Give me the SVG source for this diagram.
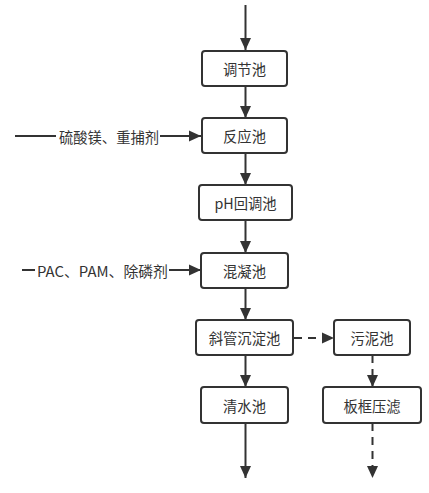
<svg xmlns="http://www.w3.org/2000/svg" width="429" height="493" viewBox="0 0 429 493">
<defs>
<marker id="arr" markerWidth="12" markerHeight="12" viewBox="0 0 12 12" refX="12" refY="6" orient="auto" markerUnits="userSpaceOnUse">
<path d="M0,0.5 L12,6 L0,11.5 Z" fill="#333"/>
</marker>
<style>
.box{fill:#fff;stroke:#333;stroke-width:2;}
.t{font-family:"Noto Sans CJK SC","Liberation Sans",sans-serif;font-size:14.3px;fill:#333;text-anchor:middle;dominant-baseline:central;}
.tl{font-family:"Noto Sans CJK SC","Liberation Sans",sans-serif;font-size:14.3px;fill:#333;dominant-baseline:central;}
.c{fill:none;stroke:#333;stroke-width:2;}
.d{stroke-dasharray:8 6;}
</style>
</defs>
<rect width="429" height="493" fill="#fff"/>
<g id="connectors">
<line class="c" x1="245.5" y1="5" x2="245.5" y2="50" marker-end="url(#arr)"/>
<line class="c" x1="245.5" y1="86" x2="245.5" y2="118" marker-end="url(#arr)"/>
<line class="c" x1="245.5" y1="153" x2="245.5" y2="185" marker-end="url(#arr)"/>
<line class="c" x1="245.5" y1="220" x2="245.5" y2="253" marker-end="url(#arr)"/>
<line class="c" x1="245.5" y1="288" x2="245.5" y2="320" marker-end="url(#arr)"/>
<line class="c" x1="245.5" y1="355" x2="245.5" y2="387" marker-end="url(#arr)"/>
<line class="c" x1="245.5" y1="423" x2="245.5" y2="478" marker-end="url(#arr)"/>
<line class="c d" x1="294" y1="338" x2="334" y2="338" marker-end="url(#arr)"/>
<line class="c d" x1="372.5" y1="355" x2="372.5" y2="387" marker-end="url(#arr)"/>
<line class="c d" x1="372.5" y1="423" x2="372.5" y2="478" marker-end="url(#arr)"/>
<line class="c" x1="15" y1="136" x2="56" y2="136"/>
<line class="c" x1="160" y1="136" x2="201" y2="136" marker-end="url(#arr)"/>
<line class="c" x1="22" y1="270" x2="35" y2="270"/>
<line class="c" x1="169" y1="270" x2="201" y2="270" marker-end="url(#arr)"/>
</g>
<g id="label-1"><text class="tl" x="59" y="136" textLength="100" lengthAdjust="spacingAndGlyphs">硫酸镁、重捕剂</text></g>
<g id="label-2"><text class="tl" x="37" y="270" textLength="131" lengthAdjust="spacingAndGlyphs">PAC、PAM、除磷剂</text></g>
<g id="n1"><rect class="box" x="202" y="51" width="85" height="35" rx="3"/><text class="t" x="244.5" y="68.5">调节池</text></g>
<g id="n2"><rect class="box" x="202" y="118" width="85" height="35" rx="3"/><text class="t" x="244.5" y="135.5">反应池</text></g>
<g id="n3"><rect class="box" x="199" y="185" width="93" height="35" rx="3"/><text class="t" x="245.5" y="202.5">pH回调池</text></g>
<g id="n4"><rect class="box" x="201" y="253" width="87" height="35" rx="3"/><text class="t" x="244.5" y="270.5">混凝池</text></g>
<g id="n5"><rect class="box" x="196" y="320" width="97" height="35" rx="3"/><text class="t" x="244.5" y="337.5">斜管沉淀池</text></g>
<g id="n6"><rect class="box" x="334" y="320" width="76" height="35" rx="3"/><text class="t" x="372" y="337.5">污泥池</text></g>
<g id="n7"><rect class="box" x="201" y="387" width="87" height="36" rx="3"/><text class="t" x="244.5" y="405">清水池</text></g>
<g id="n8"><rect class="box" x="323" y="387" width="98" height="36" rx="3"/><text class="t" x="372" y="405">板框压滤</text></g>
</svg>
